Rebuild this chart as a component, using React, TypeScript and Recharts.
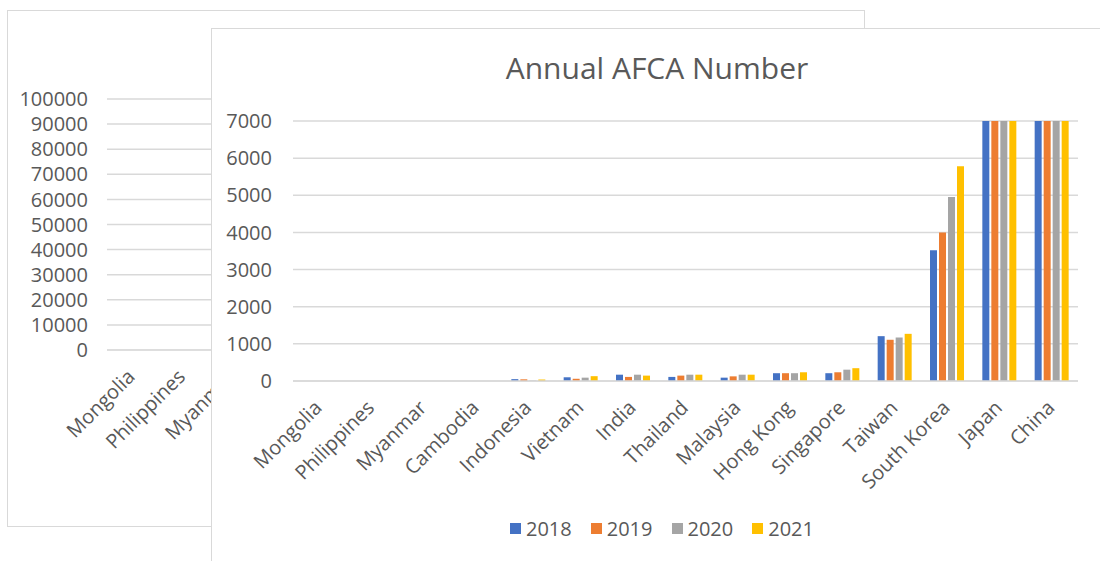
import React from "react"
import { BarChart, Bar, XAxis, YAxis, CartesianGrid, Legend } from "recharts"

const countries = [
  "Mongolia",
  "Philippines",
  "Myanmar",
  "Cambodia",
  "Indonesia",
  "Vietnam",
  "India",
  "Thailand",
  "Malaysia",
  "Hong Kong",
  "Singapore",
  "Taiwan",
  "South Korea",
  "Japan",
  "China",
]

// Japan and China run past the 7000 axis cap, so their true size is a guess
const afca2018 = [0, 0, 0, 0, 50, 100, 170, 110, 90, 210, 210, 1207, 3523, 12000, 80000]
const afca2019 = [0, 0, 0, 0, 45, 60, 110, 145, 125, 210, 235, 1110, 4000, 12500, 85000]
const afca2020 = [0, 0, 0, 0, 10, 90, 170, 170, 170, 210, 305, 1171, 4955, 13000, 88000]
const afca2021 = [0, 0, 0, 0, 40, 130, 145, 170, 170, 235, 345, 1270, 5784, 13500, 92000]

const years = ["2018", "2019", "2020", "2021"]
const colors = ["#4472C4", "#ED7D31", "#A5A5A5", "#FFC000"]

const frontTicks = [0, 1000, 2000, 3000, 4000, 5000, 6000, 7000]
const backTicks = [0, 10000, 20000, 30000, 40000, 50000, 60000, 70000, 80000, 90000, 100000]

const data = countries.map((country, i) => ({
  country,
  "2018": afca2018[i],
  "2019": afca2019[i],
  "2020": afca2020[i],
  "2021": afca2021[i],
}))

const FONT = "'Open Sans', 'Noto Sans', sans-serif"
const TEXT = "#595959"
const GRID = "#D9D9D9"

const AngledTick = (props: any) => {
  const { x, y, payload } = props
  return (
    <g transform={`translate(${x + 4},${y + 28})`}>
      <text textAnchor="end" transform="rotate(-45)" fill={TEXT} fontSize={20} fontFamily={FONT}>
        {payload.value}
      </text>
    </g>
  )
}

const LegendBox = () => (
  <div style={{ display: "flex", justifyContent: "center", gap: 19, fontFamily: FONT, fontSize: 20, color: TEXT }}>
    {years.map((y, i) => (
      <div key={y} style={{ display: "flex", alignItems: "center" }}>
        <span style={{ width: 11, height: 11, background: colors[i], marginRight: 5, display: "inline-block" }} />
        <span>{y}</span>
      </div>
    ))}
  </div>
)

export default function App() {
  return (
    <div style={{ position: "absolute", left: 0, top: 0, width: 1100, height: 561, overflow: "hidden", background: "#fff" }}>
      {/* chart behind, on the 0-100000 scale */}
      <div style={{ position: "absolute", left: 7, top: 10, width: 858, height: 517, border: `1px solid ${GRID}`, boxSizing: "border-box", background: "#fff" }}>
        <BarChart width={858} height={517} data={data} margin={{ top: 88, right: 5, left: -1, bottom: 0 }} barSize={3} barGap={1}>
          <CartesianGrid vertical={false} stroke={GRID} strokeWidth={1.5} />
          <XAxis dataKey="country" interval={0} height={178} tick={<AngledTick />} tickLine={false} tickSize={0} tickMargin={0} axisLine={{ stroke: GRID }} />
          <YAxis domain={[0, 100000]} ticks={backTicks} interval={0} width={100} tickSize={0} tickMargin={19} axisLine={false} tickLine={false} tick={{ fill: TEXT, fontSize: 20, fontFamily: FONT }} />
          {years.map((y, i) => (
            <Bar key={y} dataKey={y} fill={colors[i]} isAnimationActive={false} />
          ))}
        </BarChart>
      </div>

      {/* front chart */}
      <div style={{ position: "absolute", left: 211, top: 28, width: 900, height: 560, border: `1px solid ${GRID}`, boxSizing: "border-box", background: "#fff" }}>
        <div style={{ position: "absolute", left: 0, top: 18, width: 890, textAlign: "center", fontFamily: FONT, fontSize: 30, color: TEXT }}>
          Annual AFCA Number
        </div>
        <BarChart width={900} height={560} data={data} margin={{ top: 92, right: 34, left: -1, bottom: 0 }} barSize={7} barGap={2}>
          <CartesianGrid vertical={false} stroke={GRID} strokeWidth={1.5} />
          <XAxis dataKey="country" interval={0} height={208} tick={<AngledTick />} tickLine={false} tickSize={0} tickMargin={0} axisLine={{ stroke: GRID, strokeWidth: 1.5 }} />
          <YAxis domain={[0, 7000]} allowDataOverflow ticks={frontTicks} interval={0} width={82} tickSize={0} tickMargin={21} axisLine={false} tickLine={false} tick={{ fill: TEXT, fontSize: 20, fontFamily: FONT }} />
          {years.map((y, i) => (
            <Bar key={y} dataKey={y} fill={colors[i]} isAnimationActive={false} />
          ))}
          <Legend layout="horizontal" verticalAlign="middle" align="center" wrapperStyle={{ top: 486, left: 0, width: 900 }} content={<LegendBox />} />
        </BarChart>
      </div>
    </div>
  )
}
